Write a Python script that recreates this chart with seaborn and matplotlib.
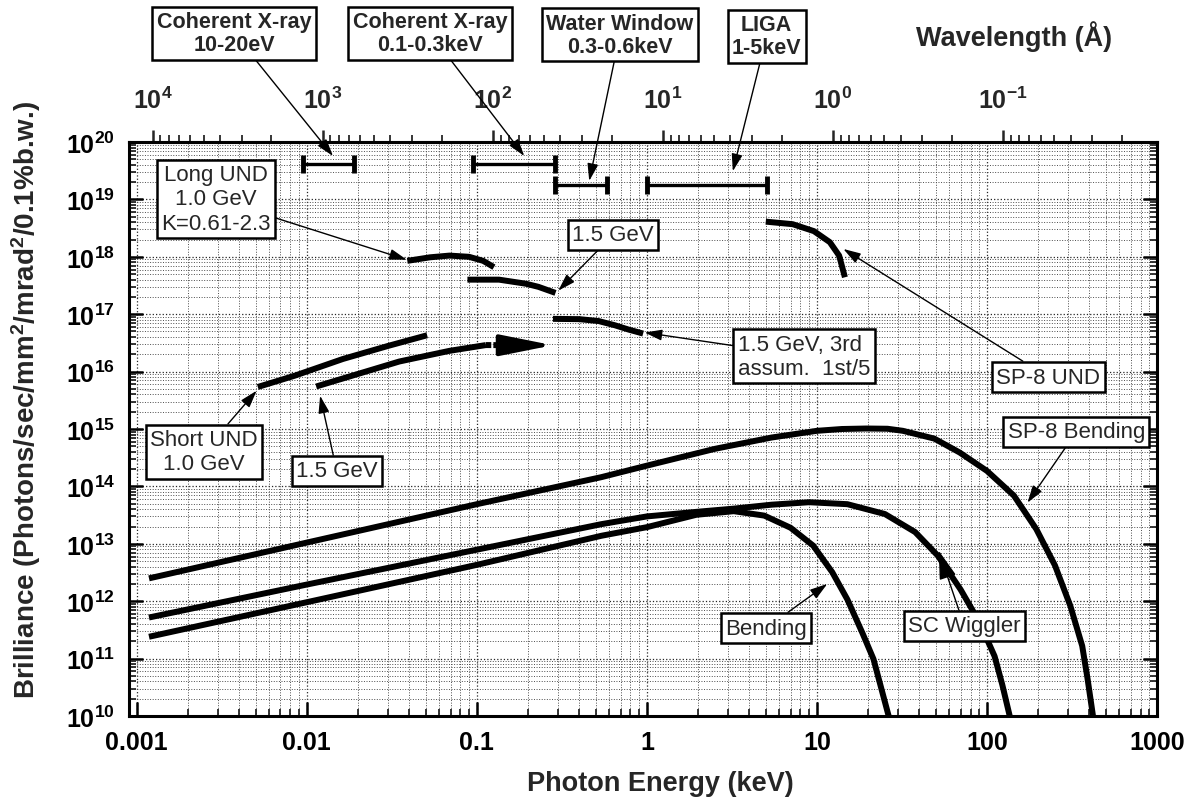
import numpy as np
import pandas as pd
import matplotlib
matplotlib.use("Agg")
import matplotlib.pyplot as plt
import seaborn as sns
from matplotlib.ticker import LogLocator, NullFormatter, FixedLocator

# ---------------- data (photon energy in keV, brilliance) ----------------
sp8_bend_E = [0.00118, 0.01, 0.1, 0.54, 1, 2.5, 5.4, 10, 14, 19.5, 26, 32, 49, 69, 100, 144, 195, 251, 309, 363, 390, 420]
sp8_bend_B = [2.5e12, 1.05e13, 4.9e13, 1.45e14, 2.3e14, 4.5e14, 7.1e14, 9.3e14, 1.0e15, 1.02e15, 1.01e15, 9.3e14,
              6.8e14, 3.9e14, 1.86e14, 6.9e13, 1.8e13, 4.2e12, 8.3e11, 1.66e11, 4.5e10, 1.0e10]

wig_E = [0.00118, 0.01, 0.1, 0.54, 1, 1.95, 3.24, 5.4, 9.0, 15.1, 25.1, 37.8, 51.4, 69.9, 90.3, 110.8, 123, 136]
wig_B = [5.2e11, 1.95e12, 7.9e12, 2.2e13, 3.0e13, 3.6e13, 4.1e13, 4.8e13, 5.3e13, 4.9e13, 3.3e13,
         1.6e13, 6.2e12, 1.6e12, 4.3e11, 1.1e11, 3.5e10, 1.0e10]

bend_E = [0.00118, 0.01, 0.1, 0.54, 1, 1.95, 3.24, 4.9, 7.0, 9.5, 12.3, 15.1, 18.5, 21.5, 26.4]
bend_B = [2.4e11, 9.6e11, 4.3e12, 1.38e13, 1.95e13, 3.2e13, 3.7e13, 3.1e13, 1.9e13, 9.3e12,
          3.2e12, 1.07e12, 2.8e11, 9.8e10, 1.0e10]

long_und_E = [0.039, 0.053, 0.069, 0.09, 0.109, 0.126]
long_und_B = [8.5e17, 9.8e17, 1.05e18, 1.0e18, 8.5e17, 6.6e17]

und15_1st_E = [0.088, 0.135, 0.194, 0.23, 0.29]
und15_1st_B = [4.0e17, 4.0e17, 3.4e17, 3.0e17, 2.35e17]

und15_3rd_E = [0.28, 0.4, 0.52, 0.65, 0.78, 0.95]
und15_3rd_B = [8.3e16, 8.2e16, 7.6e16, 6.4e16, 5.4e16, 4.6e16]

short_und10_E = [0.00515, 0.0085, 0.0163, 0.03, 0.051]
short_und10_B = [5.4e15, 8.5e15, 1.66e16, 2.8e16, 4.3e16]

short_und15_E = [0.01135, 0.035, 0.069, 0.113]
short_und15_B = [5.5e15, 1.5e16, 2.3e16, 2.9e16]
short_und15_ext_E = [0.113, 0.18]
short_und15_ext_B = [2.9e16, 2.88e16]
short_und15_tip_E = 0.28

sp8_und_E = [5.0, 7.2, 9.6, 11.9, 13.5, 14.6]
sp8_und_B = [4.1e18, 3.7e18, 2.8e18, 1.8e18, 1.05e18, 4.4e17]

# application ranges (bars)
range_lo = [0.0095, 0.095, 0.288, 1.0]
range_hi = [0.019, 0.29, 0.58, 5.1]
range_B = [4.2e19, 4.2e19, 1.8e19, 1.8e19]

# wavelength axis ticks (Angstrom)
wl_ticks = [1e4, 1e3, 1e2, 1e1, 1e0, 1e-1]
wl_labels = ["$10^{4}$", "$10^{3}$", "$10^{2}$", "$10^{1}$", "$10^{0}$", "$10^{-1}$"]

# ---------------- style ----------------
sns.set_theme(style="ticks")
plt.rcParams["font.family"] = ["Liberation Sans", "DejaVu Sans"]
plt.rcParams["mathtext.fontset"] = "custom"
plt.rcParams["mathtext.rm"] = "Liberation Sans:bold"
plt.rcParams["mathtext.bf"] = "Liberation Sans:bold"
plt.rcParams["mathtext.it"] = "Liberation Sans:bold"
plt.rcParams["mathtext.default"] = "bf"

fig = plt.figure(figsize=(11.91, 8.03), dpi=100)
ax = fig.add_axes([0.1083, 0.1071, 0.8632, 0.7148])
ax.set_xscale("log")
ax.set_yscale("log")
ax.set_xlim(0.0009, 1000)
ax.set_ylim(1e10, 1e20)

# grid
ax.grid(which="major", ls=":", color="0.15", lw=0.9)
ax.grid(which="minor", ls=":", color="0.3", lw=0.7)
ax.set_axisbelow(True)

LW = 4.3
def curve(E, B, **kw):
    df = pd.DataFrame({"E": E, "B": B})
    sns.lineplot(data=df, x="E", y="B", ax=ax, color="black", lw=kw.pop("lw", LW),
                 sort=False, estimator=None, solid_capstyle="butt", **kw)

curve(sp8_bend_E, sp8_bend_B)
curve(wig_E, wig_B)
curve(bend_E, bend_B)
curve(long_und_E, long_und_B)
curve(und15_1st_E, und15_1st_B)
curve(und15_3rd_E, und15_3rd_B)
curve(short_und10_E, short_und10_B)
curve(short_und15_E, short_und15_B)
curve(short_und15_ext_E, short_und15_ext_B, ls=(0, (0.9, 0.35)))
curve(sp8_und_E, sp8_und_B)
ax.annotate("", xy=(short_und15_tip_E, short_und15_ext_B[-1]),
            xytext=(short_und15_ext_E[-1], short_und15_ext_B[-1]),
            arrowprops=dict(arrowstyle="-|>,head_length=1.6,head_width=0.32",
                            mutation_scale=20, lw=3, color="black", shrinkA=0, shrinkB=0))

# range bars
for lo, hi, b in zip(range_lo, range_hi, range_B):
    ax.plot([lo, hi], [b, b], color="black", lw=2.4, solid_capstyle="butt")
    ax.plot([lo, hi], [b, b], ls="none", marker="|", ms=13, mew=3.5, color="black")

# ---------------- annotations ----------------
arrow = dict(arrowstyle="-|>,head_length=0.7,head_width=0.22", mutation_scale=15,
             lw=1.0, color="black", shrinkA=0, shrinkB=0)
big_arrow = dict(arrowstyle="-|>,head_length=1.0,head_width=0.3", mutation_scale=18,
                 lw=1.0, color="black", shrinkA=0, shrinkB=0)
box = dict(boxstyle="square,pad=0.2", fc="white", ec="black", lw=1.8)

top_labels = ["Coherent X-ray\n10-20eV", "Coherent X-ray\n0.1-0.3keV", "Water Window\n0.3-0.6keV", "LIGA\n1-5keV"]
top_text_xy = [(0.00373, 7.9e21), (0.0531, 7.9e21), (0.693, 7.4e21), (5.06, 7.0e21)]
top_heads = [(0.01425, 5.7e19), (0.19, 5.7e19), (0.458, 2.1e19), (3.2, 3.1e19)]
for t, xyt, h in zip(top_labels, top_text_xy, top_heads):
    ax.annotate(t, xy=h, xytext=xyt, ha="center", va="center", fontsize=15.5,
                fontweight="bold", linespacing=1.15, bbox=box, arrowprops=arrow,
                annotation_clip=False)

in_labels = ["Long UND\n1.0 GeV\nK=0.61-2.3", "1.5 GeV", "1.5 GeV, 3rd\nassum.  1st/5",
             "SP-8 UND", "SP-8 Bending", "Bending", "SC Wiggler", "Short UND\n1.0 GeV", "1.5 GeV"]
in_text_xy = [(0.00292, 1.02e19), (0.632, 2.4e18), (8.4, 1.86e16), (229, 8.05e15), (335, 8.9e14),
              (5.02, 3.4e11), (73.5, 3.7e11), (0.00248, 4.0e14), (0.0150, 1.86e14)]
in_heads = [(0.0387, 8.9e17), (0.301, 2.57e17), (0.97, 4.8e16), (14.3, 1.37e18), (173, 5.2e13),
            (11.5, 2.0e12), (52, 7.6e12), (0.00507, 4.65e15), (0.01197, 3.8e15)]
in_align = ["center", "center", "left", "center", "center", "center", "center", "center", "center"]
for t, xyt, h, al in zip(in_labels, in_text_xy, in_heads, in_align):
    ax.annotate(t, xy=h, xytext=xyt, ha="center", va="center", multialignment=al,
                fontsize=16, linespacing=1.2, bbox=box,
                arrowprops=big_arrow if t == "SC Wiggler" else arrow, annotation_clip=False)

# ---------------- axes / ticks ----------------
for s in ax.spines.values():
    s.set_linewidth(2.2)
    s.set_color("black")

ax.yaxis.set_major_locator(LogLocator(base=10, numticks=20))
ax.xaxis.set_minor_locator(LogLocator(base=10, subs=np.arange(2, 10), numticks=100))
ax.yaxis.set_minor_locator(LogLocator(base=10, subs=np.arange(2, 10), numticks=100))
ax.xaxis.set_minor_formatter(NullFormatter())
ax.yaxis.set_minor_formatter(NullFormatter())
ax.set_xticks([0.001, 0.01, 0.1, 1, 10, 100, 1000])
ax.set_xticklabels(["0.001", "0.01", "0.1", "1", "10", "100", "1000"])
ax.set_xlim(0.0009, 1000)

ax.tick_params(which="major", direction="in", length=10, width=1.8, top=False, right=True,
               labelsize=18, pad=10, colors="black")
ax.tick_params(which="minor", direction="in", length=5, width=1.3, top=False, right=True)
for lab in ax.get_xticklabels() + ax.get_yticklabels():
    lab.set_fontweight("bold")

ax.set_xlabel("Photon Energy (keV)", fontsize=19.5, fontweight="bold")
ax.set_ylabel("Brilliance (Photons/sec/mm$^2$/mrad$^2$/0.1%b.w.)", fontsize=20, fontweight="bold")
ax.xaxis.set_label_coords(0.5165, -0.094)
ax.yaxis.set_label_coords(-0.084, 0.552)

# secondary wavelength axis (Angstrom)
def e2l(E):
    E = np.asarray(E, dtype=float)
    with np.errstate(divide="ignore"):
        return 12.398 / E

sec = ax.secondary_xaxis("top", functions=(e2l, e2l))
sec.xaxis.set_major_locator(FixedLocator(wl_ticks))
sec.set_xticks(wl_ticks)
sec.set_xticklabels(wl_labels, fontweight="bold")
minor_wl = [m * d for d in [1e3, 1e2, 1e1, 1e0, 1e-1, 1e-2] for m in range(2, 10)]
minor_wl = [v for v in minor_wl if 12.398 / 1000 < v < 12.398 / 0.0009]
sec.xaxis.set_minor_locator(FixedLocator(minor_wl))
sec.xaxis.set_minor_formatter(NullFormatter())
sec.tick_params(which="major", direction="out", length=9, width=1.8, labelsize=18, pad=12)
sec.tick_params(which="minor", direction="out", length=5, width=1.3)
sec.spines["top"].set_linewidth(2.2)
fig.text(1014 / 1191, 1 - 37 / 803, "Wavelength (Å)", ha="center", va="center",
         fontsize=19.5, fontweight="bold")

fig.savefig("out.png", dpi=100)
